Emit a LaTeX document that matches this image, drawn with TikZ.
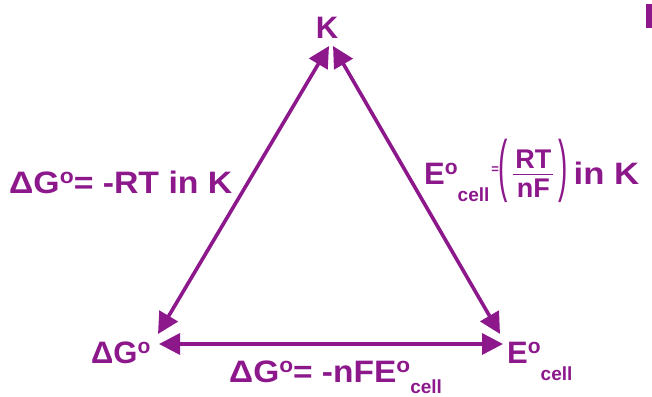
\documentclass[tikz,border=0pt]{standalone}
\usepackage{fontspec}
\usepackage{graphicx}
\setmainfont{Liberation Sans}
\usetikzlibrary{arrows.meta}
\definecolor{CellPurple}{RGB}{140,24,140}
\newcommand{\degsym}{\raisebox{10pt}{\fontsize{21}{21}\selectfont o}}
\newcommand{\cellsub}[1][17pt]{\lower#1\hbox{\fontsize{19}{19}\selectfont cell}}
\newcommand{\bigparen}[1]{\raisebox{-4pt}{\scalebox{1}[2.43]{\mdseries\fontsize{28}{28}\selectfont#1}}}
\tikzset{
  chemlabel/.style={text=CellPurple, font=\fontsize{31}{31}\selectfont\bfseries,
    inner sep=0pt, anchor=base west},
  relarrow/.style={{Triangle[length=21pt,width=21pt]}-{Triangle[length=21pt,width=21pt]},
    draw=CellPurple, fill=CellPurple, line width=3.6pt}
}
\begin{document}
\begin{tikzpicture}[x=1pt, y=-1pt]
  \useasboundingbox (0,0) rectangle (652,396);
  % vertices
  \node[chemlabel, anchor=base] (K) at (327,38) {K};
  \node[chemlabel] (dG) at (91,363) {ΔG\degsym};
  \node[chemlabel] (Ecell) at (507,363) {E\degsym\cellsub};
  % arrow ends
  \coordinate (topL) at (329,46);
  \coordinate (topR) at (333,46);
  \coordinate (leftA) at (158,334);
  \coordinate (leftB) at (159,344);
  \coordinate (rightA) at (500,334);
  \coordinate (rightB) at (503,344);
  \draw[relarrow] (topL) -- (leftA);
  \draw[relarrow] (topR) -- (rightA);
  \draw[relarrow] (leftB) -- (rightB);
  % relations
  \node[chemlabel] (relK) at (9,193) {\scalebox{1.09}[1]{ΔG\degsym= -RT in K}};
  \node[chemlabel] (relE) at (424,184) {E\degsym\cellsub\hspace{2pt}\raisebox{11pt}{\fontsize{13}{13}\selectfont =}%
    \bigparen{(}$\vcenter{\hbox{\hspace{5pt}\fontsize{27}{27}\selectfont\bfseries
      \begin{tabular}{@{\hspace{2pt}}c@{\hspace{2pt}}}RT\\[-3pt]\hline\rule{0pt}{23pt}nF\end{tabular}\hspace{5pt}}}$\bigparen{)}%
    \hspace{6pt}\scalebox{1.12}[1]{in K}};
  \node[chemlabel] (relG) at (229,382) {\scalebox{1.08}[1]{ΔG\degsym= -nFE\degsym}\cellsub[11pt]};
  % cropped mark at the edge
  \fill[CellPurple] (646,4) rectangle (652,28);
\end{tikzpicture}
\end{document}
